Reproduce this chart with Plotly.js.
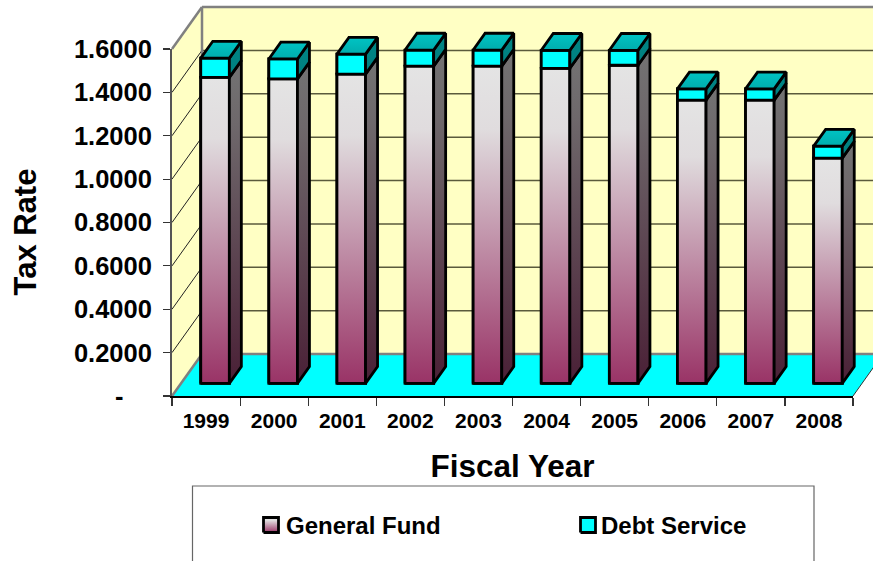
<!DOCTYPE html>
<html>
<head>
<meta charset="utf-8">
<script src="https://cdn.plot.ly/plotly-3.0.1.min.js"></script>
<style>html,body{margin:0;padding:0;background:#fff;overflow:hidden}#chart{width:873px;height:561px}</style>
</head>
<body>
<div id="chart"></div>
<script>
// ---- data ----
var categories = ["1999","2000","2001","2002","2003","2004","2005","2006","2007","2008"];
var generalFund = [1.411,1.404,1.426,1.463,1.463,1.453,1.467,1.306,1.306,1.039];
var debtService = [0.089,0.092,0.092,0.074,0.074,0.083,0.069,0.052,0.052,0.055];
var yTickVals = [0,0.2,0.4,0.6,0.8,1.0,1.2,1.4,1.6];
var yTickText = ["-\u00A0\u00A0\u00A0\u00A0","0.2000","0.4000","0.6000","0.8000","1.0000","1.2000","1.4000","1.6000"];

// ---- plot frame (pixels) and pseudo-3D projection ----
var L=172,R=853,T=49,B=396,W=873,H=561;
var depthPxX=30, depthPxY=42;
var catPx=(R-L)/categories.length, valPx=(B-T)/1.6;
var depthX=depthPxX/catPx, depthY=depthPxY/valPx;
var barWidth=0.42, gapD=0.3, barD=0.4;
var off=gapD*depthX, base=gapD*depthY, dx=barD*depthX, dy=barD*depthY;
function px(x){return x/W;}
function py(y){return 1-y/H;}
function xa(p){return (p-L)/catPx-0.5;}
function ya(p){return (B-p)/valPx;}

var GF_TOP="#E4E4E4", GF_MID="#E0DCDE", GF_BOT="#993366";
var SIDE_TOP="#737373", SIDE_MID="#6E686B", SIDE_BOT="#4A2036";

function poly(xs,ys,stops,lw){
  return {type:"scatter",mode:"lines",xaxis:"x2",yaxis:"y2",cliponaxis:false,hoverinfo:"skip",showlegend:false,
    x:xs.concat(xs[0]),y:ys.concat(ys[0]),fill:"toself",line:{color:"#000",width:lw===undefined?2.8:lw},
    fillgradient:{type:"vertical",colorscale:stops}};
}
var gfStops=[[0,GF_BOT],[0.8,GF_MID],[1,GF_TOP]];
var sideStops=[[0,SIDE_BOT],[0.8,SIDE_MID],[1,SIDE_TOP]];
function flat(c1,c2){return [[0,c2],[1,c1]];}

var traces=[];
// true bars (front faces)
traces.push({type:"bar",name:"General Fund",x:categories,y:generalFund,base:categories.map(function(){return base;}),
  width:barWidth,offset:off-barWidth/2,marker:{color:"#C08FA8",line:{color:"#000",width:2.8}},hoverinfo:"x+y",showlegend:false});
traces.push({type:"bar",name:"Debt Service",x:categories,y:debtService,base:generalFund.map(function(v){return v+base;}),
  width:barWidth,offset:off-barWidth/2,marker:{color:"#00FFFF",line:{color:"#000",width:2.8}},hoverinfo:"x+y",showlegend:false});

categories.forEach(function(c,i){
  var x0=i+off-barWidth/2,x1=x0+barWidth,g=generalFund[i]+base,t=g+debtService[i];
  traces.push(poly([x0,x1,x1,x0],[base,base,g,g],gfStops));
  traces.push(poly([x1,x1+dx,x1+dx,x1],[base,base+dy,g+dy,g],sideStops));
  traces.push(poly([x0,x1,x1,x0],[g,g,t,t],flat("#00FFFF","#00FFFF")));
  traces.push(poly([x1,x1+dx,x1+dx,x1],[g,g+dy,t+dy,t],flat("#008585","#008080")));
  traces.push(poly([x0,x1,x1+dx,x0+dx],[t,t,t+dy,t+dy],flat("#00C4C4","#00ADAD")));
});

// legend swatches
function swatch(left,top,size,stops){
  return poly([xa(left),xa(left+size),xa(left+size),xa(left)],[ya(top+size),ya(top+size),ya(top),ya(top)],stops,2.8);
}
traces.push(swatch(263.5,517.5,15,gfStops));
traces.push(swatch(580.5,517.5,15,flat("#00FFFF","#00FFFF")));

// walls and floor as shapes below everything (paper refs keep them under the bars)
var wall="#FFFFC4",edge="#808080";
var shapes=[];
function addP(pts,fill){shapes.push({type:"path",xref:"paper",yref:"paper",layer:"below",
  path:"M"+pts.map(function(p){return px(p[0])+" "+py(p[1]);}).join(" L")+" Z",fillcolor:fill,line:{color:"rgba(0,0,0,0)",width:0}});}
function addL(x0,y0,x1,y1,c,w){shapes.push({type:"line",xref:"paper",yref:"paper",layer:"below",x0:px(x0),y0:py(y0),x1:px(x1),y1:py(y1),line:{color:c,width:w}});}
var bL=L+depthPxX,bR=R+depthPxX,bT=T-depthPxY,bB=B-depthPxY;
addP([[bL,bT],[bR,bT],[bR,bB],[bL,bB]],wall);
addP([[L,B],[bL,bB],[bL,bT],[L,T]],wall);
addP([[L,B],[R,B],[bR,bB],[bL,bB]],"#00FFFF");
yTickVals.slice(1).forEach(function(v){
  var p=B-v*valPx;
  if(v<1.6){addL(bL,p-depthPxY,bR,p-depthPxY,"#5A5A3C",1.5);addL(L,p,bL,p-depthPxY,"#222",1);}
});
addL(bL,bT,bR,bT,edge,2.5);
addL(bL,bT,bL,bB,edge,2.5);
addL(bL,bB,bR,bB,edge,2.5);
addL(L,T,bL,bT,edge,2.5);
addL(L,B,bL,bB,edge,2.5);
addL(R,B,bR,bB,"#333",1);
// legend box
shapes.push({type:"rect",xref:"paper",yref:"paper",x0:px(192.5),x1:px(814),y0:py(486),y1:py(590),line:{color:"#666",width:1.2},fillcolor:"rgba(0,0,0,0)"});

var bold="Liberation Sans, Arial, sans-serif";
var layout={
  width:W,height:H,paper_bgcolor:"#fff",plot_bgcolor:"rgba(0,0,0,0)",showlegend:false,barmode:"overlay",
  margin:{l:0,r:0,t:0,b:0,pad:0},
  xaxis:{domain:[L/W,R/W],anchor:"y",type:"category",categoryorder:"array",categoryarray:categories,range:[-0.5,9.5],tickson:"boundaries",
    ticks:"outside",ticklen:8,tickwidth:1.2,tickcolor:"#333",showline:true,linecolor:"#000",linewidth:1.5,showgrid:false,zeroline:false,fixedrange:true,
    ticklabelstandoff:5,tickfont:{family:bold,size:21,color:"#000",weight:"bold"},
    title:{text:"<b>Fiscal Year</b>",font:{family:bold,size:31.5,color:"#000"},standoff:24}},
  yaxis:{domain:[1-B/H,1-T/H],anchor:"x",range:[0,1.6],tickmode:"array",tickvals:yTickVals,ticktext:yTickText,ticks:"outside",ticklen:7,tickwidth:1.2,tickcolor:"#333",
    showline:true,linecolor:"#555",linewidth:2,showgrid:false,zeroline:false,fixedrange:true,ticklabelstandoff:6,
    tickfont:{family:bold,size:25.5,color:"#000",weight:"bold"}},
  xaxis2:{domain:[0,1],anchor:"y2",type:"linear",range:[xa(0),xa(W)],visible:false,fixedrange:true},
  yaxis2:{domain:[0,1],anchor:"x2",type:"linear",range:[ya(H),ya(0)],visible:false,fixedrange:true},
  shapes:shapes,
  annotations:[
    {text:"<b>Tax Rate</b>",xref:"paper",yref:"paper",x:px(25),y:py(232.5),textangle:-90,showarrow:false,xanchor:"center",yanchor:"middle",font:{family:bold,size:31,color:"#000"}},
    {text:"<b>General Fund</b>",xref:"paper",yref:"paper",x:px(284),y:py(525),showarrow:false,xanchor:"left",yanchor:"middle",font:{family:bold,size:24,color:"#000"}},
    {text:"<b>Debt Service</b>",xref:"paper",yref:"paper",x:px(599),y:py(525),showarrow:false,xanchor:"left",yanchor:"middle",font:{family:bold,size:24,color:"#000"}}
  ]
};
Plotly.newPlot("chart",traces,layout,{displayModeBar:false,staticPlot:true});
</script>
</body>
</html>
